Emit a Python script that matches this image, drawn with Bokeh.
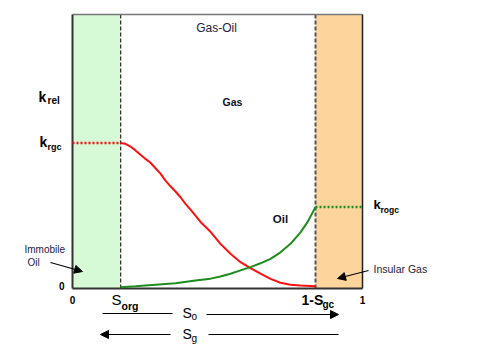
from bokeh.plotting import figure
from bokeh.models import Label, Arrow, NormalHead, Range1d
from bokeh.embed import file_html
from bokeh.resources import INLINE

# ---- data ----
x_ticks = [0, 1]
x_tick_labels = ["0", "1"]
y_ticks = [0]
y_tick_labels = ["0"]
s_org = 0.166
one_minus_sgc = 0.838
k_rgc = 0.531
k_rogc = 0.297

gas_s = [0.1655, 0.1828, 0.2000, 0.2172, 0.2345, 0.2517, 0.2690, 0.2862, 0.3034, 0.3207,
         0.3379, 0.3552, 0.3724, 0.3897, 0.4069, 0.4241, 0.4414, 0.4759, 0.5103, 0.5448,
         0.5793, 0.6138, 0.6483, 0.6828, 0.7172, 0.7517, 0.7862, 0.8379]
gas_kr = [0.531, 0.528, 0.518, 0.504, 0.488, 0.473, 0.459, 0.439, 0.419, 0.394,
          0.373, 0.354, 0.333, 0.309, 0.288, 0.266, 0.243, 0.207, 0.163, 0.127,
          0.096, 0.074, 0.054, 0.035, 0.021, 0.014, 0.011, 0.008]
oil_s = [0.1655, 0.2172, 0.2862, 0.3552, 0.4241, 0.4759, 0.5103, 0.5448, 0.5793, 0.6138,
         0.6483, 0.6828, 0.7172, 0.7517, 0.7862, 0.8103, 0.8379]
oil_kr = [0.005, 0.008, 0.014, 0.019, 0.029, 0.036, 0.044, 0.054, 0.066, 0.078,
          0.092, 0.108, 0.132, 0.163, 0.205, 0.242, 0.297]

FONT = "Liberation Sans"
TXT = "#222244"

# frame layout (pixels): plot box spans x 72..362, y 14..288 of the 485x358 canvas
L, R, T, B, W, H = 72, 362, 14, 288, 485, 358
sx = R - L
sy = B - T

p = figure(width=W, height=H, output_backend="svg", toolbar_location=None,
           x_axis_location=None, y_axis_location=None,
           x_range=Range1d(-L / sx, (W - L) / sx), y_range=Range1d(-(H - B) / sy, 1 + T / sy),
           min_border=0)
p.grid.visible = False
p.background_fill_color = "white"
p.border_fill_color = "white"
p.outline_line_color = None

# bands
p.quad(left=[0], right=[s_org], bottom=[0], top=[1], fill_color="#d5fad5", line_color=None)
p.quad(left=[one_minus_sgc], right=[1], bottom=[0], top=[1], fill_color="#fdd49c", line_color=None)
p.segment(x0=[s_org], y0=[0], x1=[s_org], y1=[1], line_color="#333333", line_dash="4 2", line_width=1.3)
p.segment(x0=[one_minus_sgc], y0=[0], x1=[one_minus_sgc], y1=[1], line_color="#555555",
          line_dash="4 2", line_width=2)

# box
p.line([0, 1], [1, 1], line_color="#777777", line_width=1.5)
p.line([1, 1], [0, 1], line_color="#222222", line_width=1.5)
p.line([0, 0], [0, 1], line_color="#333333", line_width=2)
p.line([0, 1], [0, 0], line_color="#333333", line_width=2)

# curves
p.line([0, s_org], [k_rgc, k_rgc], line_color="#ff1010", line_width=2.5, line_dash="2 2")
p.line(gas_s, gas_kr, line_color="#ff1010", line_width=2)
p.line(oil_s, oil_kr, line_color="#1e8c1e", line_width=2)
p.line([one_minus_sgc, 1], [k_rogc, k_rogc], line_color="#1e8c1e", line_width=2.5, line_dash="2 2")


def dx(px):
    return (px - L) / sx


def dy(py):
    return (B - py) / sy


def lab(x, y, text, size, bold=False, color="black", align="left"):
    p.add_layout(Label(x=x, y=y, text=text, text_font=FONT,
                       text_font_size=f"{size}px", text_font_style="bold" if bold else "normal",
                       text_color=color, text_align=align, text_baseline="middle"))


def plab(px, py, text, size, bold=False, color="black", align="left"):
    lab(dx(px), dy(py), text, size, bold, color, align)


def arrow(x0, y0, x1, y1, head=True):
    p.add_layout(Arrow(x_start=dx(x0), y_start=dy(y0), x_end=dx(x1), y_end=dy(y1),
                       line_color="black", line_width=1.2,
                       end=NormalHead(size=8, fill_color="black", line_color="black") if head else None))


# tick labels
for t, s in zip(x_ticks, x_tick_labels):
    lab(t, dy(299), s, 10, bold=True, align="center")
for t, s in zip(y_ticks, y_tick_labels):
    lab(dx(64), t + dy(285) , s, 10, bold=True, align="right")

plab(216, 27, "Gas-Oil", 12, color=TXT, align="center")
plab(232, 101, "Gas", 10.5, bold=True, color="#111122", align="center")
plab(280, 218, "Oil", 11.5, bold=True, color="#111122", align="center")

plab(38, 96, "k", 14, bold=True)
plab(47, 100, "rel", 10, bold=True)
plab(39, 141, "k", 14, bold=True)
plab(47, 146, "rgc", 9, bold=True)
plab(373, 204, "k", 13, bold=True)
plab(380, 209, "rogc", 8.5, bold=True)

plab(24, 249, "Immobile", 10, color=TXT)
plab(27, 262, "Oil", 10, color=TXT)
arrow(50, 262, 82, 271)
plab(373, 268, "Insular Gas", 10.5, color=TXT)
arrow(368, 270, 337, 278)

plab(111, 299, "S", 15)
plab(121, 305, "org", 10.5, bold=True)
plab(301, 299, "1-S", 14, bold=True)
plab(322, 304, "gc", 10, bold=True)

plab(182, 312, "S", 14)
plab(191, 316, "o", 10)
plab(182, 333, "S", 14)
plab(191, 338, "g", 10)

arrow(102, 313, 172, 313, head=False)
arrow(206, 314, 338, 314)
arrow(170, 334, 100, 334)
arrow(208, 334, 338, 334, head=False)

open("out.html", "w").write(file_html(p, INLINE))
